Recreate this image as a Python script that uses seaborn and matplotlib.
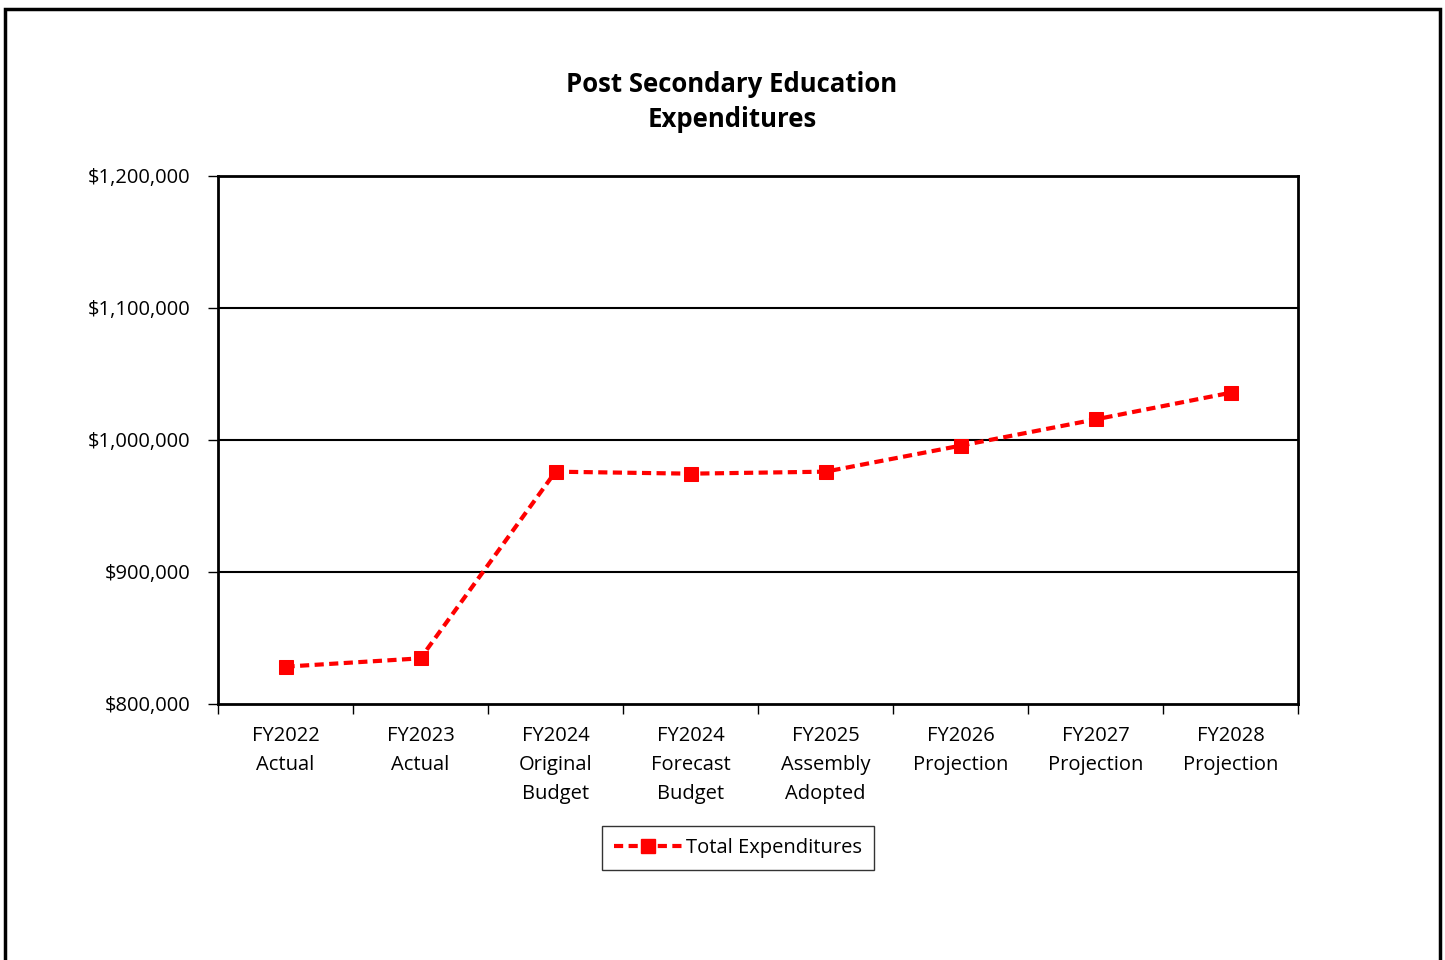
import matplotlib
matplotlib.use("Agg")
import matplotlib.pyplot as plt
import matplotlib.patches as mpatches
import seaborn as sns
import pandas as pd
from matplotlib.ticker import FuncFormatter, FixedLocator

categories = ["FY2022\nActual", "FY2023\nActual", "FY2024\nOriginal\nBudget",
              "FY2024\nForecast\nBudget", "FY2025\nAssembly\nAdopted",
              "FY2026\nProjection", "FY2027\nProjection", "FY2028\nProjection"]
total_expenditures = [828300, 834600, 976000, 974500, 976000, 995700, 1015600, 1035800]
y_ticks = [800000, 900000, 1000000, 1100000, 1200000]

sns.set_theme(style="white")
plt.rcParams["font.family"] = ["Open Sans", "DejaVu Sans"]
plt.rcParams["text.color"] = "black"
plt.rcParams["xtick.color"] = "black"
plt.rcParams["ytick.color"] = "black"
plt.rcParams["xtick.labelcolor"] = "black"
plt.rcParams["ytick.labelcolor"] = "black"

fig = plt.figure(figsize=(14.45, 9.6), dpi=100)
fig.patch.set_facecolor("white")
ax = fig.add_axes([218 / 1445, 1 - 704 / 960, 1080 / 1445, 528 / 960])

df = pd.DataFrame({"pos": range(len(categories)), "value": total_expenditures})
sns.lineplot(data=df, x="pos", y="value", ax=ax, color="#ff0000", linewidth=3,
             linestyle=(0, (2.2, 1.3)), marker="s", markersize=10,
             markeredgecolor="#ff0000", sort=False, label="Total Expenditures",
             legend=False)

ax.set_xlim(-0.5, len(categories) - 0.5)
ax.set_ylim(y_ticks[0], y_ticks[-1])
ax.set_xlabel("")
ax.set_ylabel("")

# gridlines at interior y ticks
for v in y_ticks[1:-1]:
    ax.axhline(v, color="black", linewidth=1.5, zorder=1)

ax.yaxis.set_major_locator(FixedLocator(y_ticks))
ax.yaxis.set_major_formatter(FuncFormatter(lambda v, p: f"${v:,.0f}"))
ax.tick_params(axis="y", which="major", direction="out", length=7, width=1,
               color="black", labelcolor="black", labelsize=14.5, pad=13, left=True)

# category tick marks at boundaries, labels at centres
ax.set_xticks([i - 0.5 for i in range(len(categories) + 1)])
ax.set_xticklabels([])
ax.set_xticks(range(len(categories)), minor=True)
ax.set_xticklabels(categories, minor=True, fontsize=14.5, linespacing=1.58,
                   color="black")
ax.tick_params(axis="x", which="major", direction="out", length=7, width=1,
               color="black", bottom=True)
ax.tick_params(axis="x", which="minor", length=0, pad=16)

for s in ax.spines.values():
    s.set_color("black")
    s.set_linewidth(2)
    s.set_visible(True)

fig.text(0.5065, 1 - 102 / 960, "Post Secondary Education\nExpenditures",
         ha="center", va="center", fontsize=18.5, fontweight="bold",
         linespacing=1.42, color="black")

handle = plt.Line2D([], [], color="#ff0000", linewidth=3, linestyle=(0, (2.2, 1.3)),
                    marker="s", markersize=10, markeredgecolor="#ff0000")
leg = fig.legend([handle], ["Total Expenditures"], loc="center",
                 bbox_to_anchor=(738 / 1445, 1 - 848 / 960), fontsize=14.5,
                 frameon=True, fancybox=False, shadow=False,
                 handlelength=3.4, borderpad=0.6, handletextpad=0.2)
leg.get_frame().set_edgecolor("black")
leg.get_frame().set_linewidth(1)
for t in leg.get_texts():
    t.set_color("black")

# outer chart border
border = mpatches.Rectangle((5 / 1445, -0.05), 1435 / 1445, 1 - 9 / 960 + 0.05,
                            transform=fig.transFigure, fill=False,
                            edgecolor="black", linewidth=2.5)
fig.patches.append(border)

fig.savefig("out.png", dpi=100, facecolor="white")
